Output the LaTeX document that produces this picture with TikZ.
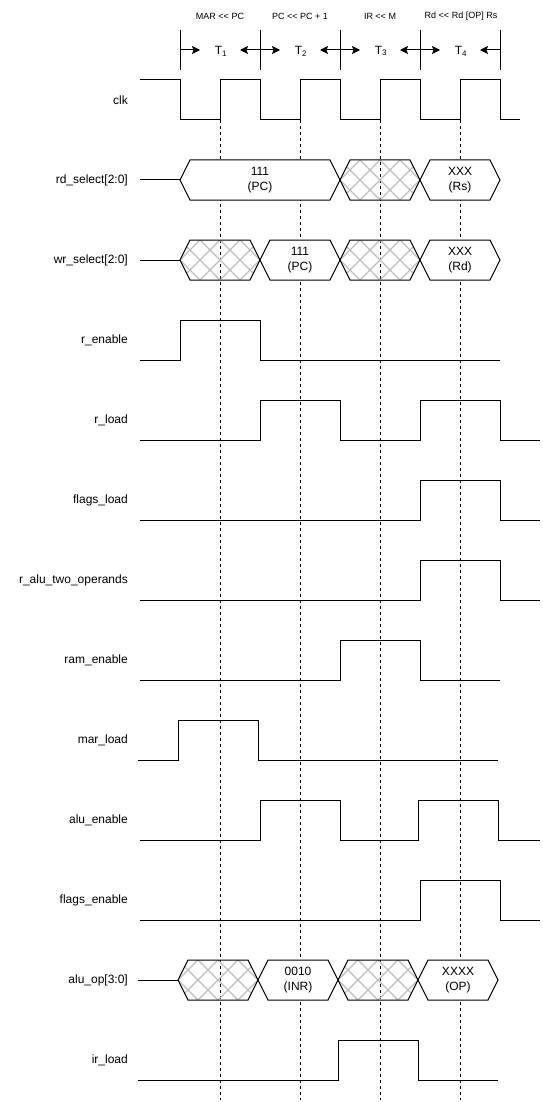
\documentclass[tikz,border=0pt]{standalone}
\usepackage{fontspec}
\setmainfont{Liberation Sans}
\usetikzlibrary{arrows.meta}
\tikzset{
  wave/.style={line width=1pt, line join=miter, black},
  lbl/.style={anchor=east, font=\fontsize{12}{14}\selectfont, inner sep=0pt},
  hexfont/.style={font=\fontsize{12}{15.5}\selectfont, align=center, inner sep=0pt},
  toplbl/.style={font=\fontsize{9}{10}\selectfont, inner sep=0pt},
  tlbl/.style={font=\fontsize{12}{14}\selectfont, inner sep=0pt},
  gridline/.style={dash pattern=on 3pt off 3pt, line width=0.9pt},
  hatchline/.style={black!25, line width=1.3pt},
  tickline/.style={line width=1pt},
  darr/.style={line width=1pt, -{Stealth[length=8pt,width=8pt,inset=1.5pt]}},
}
\newcommand\hexshape[3]{(#1,#3) -- (#1+10,#3-20) -- (#2-10,#3-20) -- (#2,#3) -- (#2-10,#3+20) -- (#1+10,#3+20) -- cycle}
\newcommand\hatchhex[3]{%
  \begin{scope}
    \clip \hexshape{#1}{#2}{#3};
    \foreach \k in {-60,-40,...,100} {
      \draw[hatchline] (#1+\k,#3-20) -- ++(40,40);
      \draw[hatchline] (#1+\k,#3+20) -- ++(40,-40);
    }
  \end{scope}
  \draw[wave] \hexshape{#1}{#2}{#3};}
\newcommand\texthex[5]{%
  \draw[wave, fill=white] \hexshape{#1}{#2}{#3};
  \node[hexfont] (#4) at ({(#1+#2)/2},#3) {#5};}
\begin{document}
\begin{tikzpicture}[x=1pt, y=-1pt]
\useasboundingbox (0,0) rectangle (542,1102);

% dashed grid lines
\foreach \gx in {220,300,380,460} {
  \coordinate (gtop\gx) at (\gx,120);
  \coordinate (gbot\gx) at (\gx,1100);
  \draw[gridline] (gtop\gx) -- (gbot\gx);
}

% top phase labels
\node[toplbl] (op1) at (220,16) {MAR <{}< PC};
\node[toplbl] (op2) at (300,16) {PC <{}< PC + 1};
\node[toplbl] (op3) at (380,16) {IR <{}< M};
\node[toplbl] (op4) at (461,16) {Rd <{}< Rd [OP] Rs};

% T markers
\foreach \tx in {180,260,340,420,500} {
  \coordinate (ta\tx) at (\tx,30);
  \coordinate (tb\tx) at (\tx,70);
  \coordinate (tm\tx) at (\tx,50);
  \draw[tickline] (ta\tx) -- (tb\tx);
}
\node[tlbl] (T1) at (221,51) {T\textsubscript{1}};
\node[tlbl] (T2) at (301,51) {T\textsubscript{2}};
\node[tlbl] (T3) at (381,51) {T\textsubscript{3}};
\node[tlbl] (T4) at (461,51) {T\textsubscript{4}};
\foreach \a/\b in {180/260,260/340,340/420,420/500} {
  \coordinate (ra\a) at (\a+20,50);
  \coordinate (la\b) at (\b-20,50);
  \draw[darr] (tm\a) -- (ra\a);
  \draw[darr] (tm\b) -- (la\b);
}

% signal labels
\node[lbl] (Lclk) at (128,100) {clk};
\node[lbl] (Lrd) at (128,180) {rd\_select[2:0]};
\node[lbl] (Lwr) at (128,260) {wr\_select[2:0]};
\node[lbl] (Lren) at (128,340) {r\_enable};
\node[lbl] (Lrld) at (128,420) {r\_load};
\node[lbl] (Lfl) at (128,500) {flags\_load};
\node[lbl] (Lrat) at (128,580) {r\_alu\_two\_operands};
\node[lbl] (Lram) at (128,660) {ram\_enable};
\node[lbl] (Lmar) at (128,740) {mar\_load};
\node[lbl] (Lalu) at (128,820) {alu\_enable};
\node[lbl] (Lfe) at (128,900) {flags\_enable};
\node[lbl] (Lop) at (128,980) {alu\_op[3:0]};
\node[lbl] (Lir) at (128,1060) {ir\_load};

% clk
\draw[wave] (140,80)--(180,80)--(180,120)--(220,120)--(220,80)--(260,80)--(260,120)--(300,120)--(300,80)--(340,80)--(340,120)--(380,120)--(380,80)--(420,80)--(420,120)--(460,120)--(460,80)--(500,80)--(500,120)--(520,120);

% rd_select
\draw[wave] (140,180)--(180,180);
\texthex{180}{340}{180}{rd1}{111\\(PC)}
\hatchhex{340}{420}{180}
\texthex{420}{500}{180}{rd3}{XXX\\(Rs)}

% wr_select
\draw[wave] (140,260)--(180,260);
\hatchhex{180}{260}{260}
\texthex{260}{340}{260}{wr2}{111\\(PC)}
\hatchhex{340}{420}{260}
\texthex{420}{500}{260}{wr4}{XXX\\(Rd)}

% r_enable
\draw[wave] (140,360)--(180,360)--(180,320)--(260,320)--(260,360)--(500,360);
% r_load
\draw[wave] (140,440)--(260,440)--(260,400)--(340,400)--(340,440)--(420,440)--(420,400)--(500,400)--(500,440)--(540,440);
% flags_load
\draw[wave] (140,520)--(420,520)--(420,480)--(500,480)--(500,520)--(540,520);
% r_alu_two_operands
\draw[wave] (140,600)--(420,600)--(420,560)--(500,560)--(500,600)--(540,600);
% ram_enable
\draw[wave] (140,680)--(340,680)--(340,640)--(420,640)--(420,680)--(500,680);
% mar_load
\draw[wave] (138,760)--(178,760)--(178,720)--(258,720)--(258,760)--(498,760);
% alu_enable
\draw[wave] (140,840)--(260,840)--(260,800)--(340,800)--(340,840)--(418,840)--(418,800)--(498,800)--(498,840)--(540,840);
% flags_enable
\draw[wave] (140,920)--(420,920)--(420,880)--(500,880)--(500,920)--(540,920);

% alu_op
\draw[wave] (138,980)--(178,980);
\hatchhex{178}{258}{980}
\texthex{258}{338}{980}{op2b}{0010\\(INR)}
\hatchhex{338}{418}{980}
\texthex{418}{498}{980}{op4b}{XXXX\\(OP)}

% ir_load
\draw[wave] (138,1080)--(338,1080)--(338,1040)--(418,1040)--(418,1080)--(498,1080);
\end{tikzpicture}
\end{document}
